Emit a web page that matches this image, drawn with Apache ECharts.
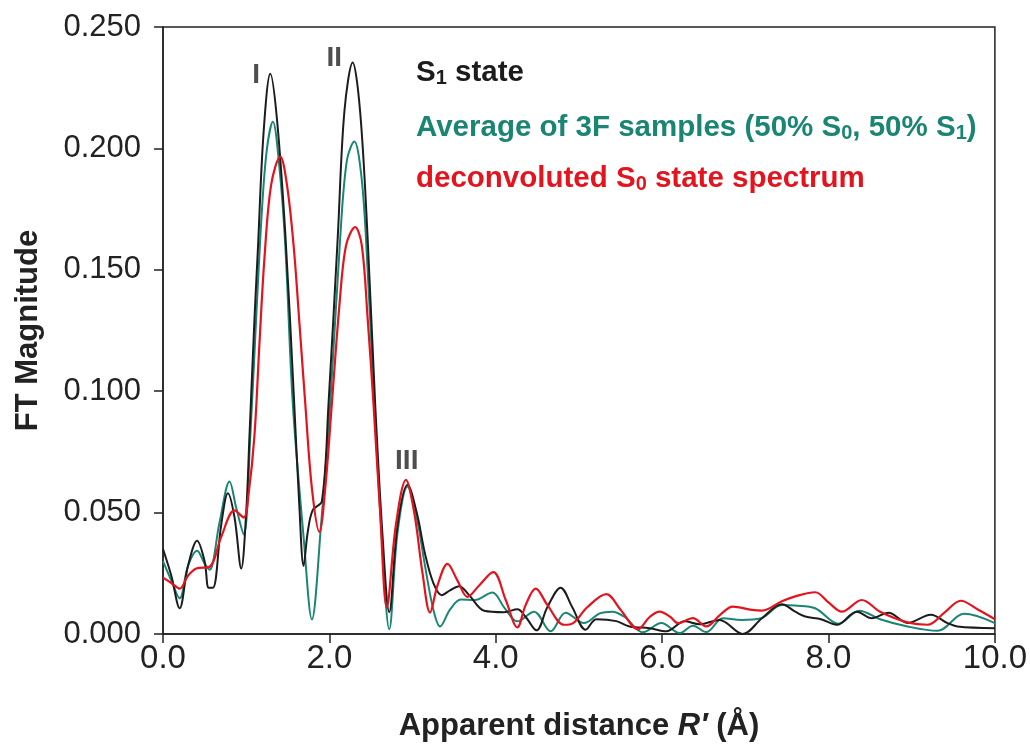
<!DOCTYPE html>
<html>
<head>
<meta charset="utf-8">
<script src="https://cdn.jsdelivr.net/npm/echarts@6/dist/echarts.min.js"></script>
<style>
html,body{margin:0;padding:0;background:#fff;overflow:hidden;}
#c{width:1030px;height:747px;}
</style>
</head>
<body>
<div id="c"></div>
<script>
// ---- data ----
// S1 state (black)
const s1R = [0.00,0.10,0.20,0.30,0.41,0.50,0.55,0.60,0.70,0.78,0.86,0.94,1.00,1.04,1.10,1.14,1.21,1.29,1.37,1.47,1.57,1.64,1.69,1.74,1.80,1.91,1.99,2.10,2.18,2.28,2.37,2.46,2.55,2.64,2.72,2.82,2.94,3.05,3.15,3.25,3.35,3.45,3.56,3.68,3.86,4.10,4.26,4.36,4.49,4.62,4.78,4.92,5.08,5.21,5.45,5.61,5.85,6.05,6.27,6.45,6.69,6.97,7.20,7.44,7.60,7.72,7.91,8.10,8.34,8.52,8.72,8.95,9.23,9.43,9.55,10.0];
const s1V = [0.035,0.024,0.0106,0.028,0.0384,0.030,0.019,0.019,0.045,0.058,0.048,0.027,0.050,0.082,0.130,0.158,0.207,0.2307,0.212,0.165,0.100,0.052,0.028,0.042,0.051,0.0547,0.095,0.163,0.215,0.2354,0.215,0.163,0.095,0.040,0.009,0.045,0.0615,0.050,0.033,0.021,0.016,0.018,0.0197,0.016,0.0096,0.009,0.0102,0.007,0.0015,0.011,0.0191,0.011,0.0018,0.0061,0.0053,0.0031,0.0024,0.0011,0.0052,0.004,0.0058,0.0,0.0065,0.0123,0.0092,0.0072,0.0061,0.0038,0.0092,0.0065,0.0088,0.0045,0.0079,0.0045,0.0031,0.0024];
// Average of 3F samples (teal)
const avgR = [0.00,0.10,0.20,0.30,0.41,0.50,0.56,0.68,0.80,0.88,0.97,1.05,1.12,1.19,1.25,1.32,1.40,1.47,1.56,1.69,1.79,1.90,2.01,2.13,2.21,2.30,2.38,2.44,2.54,2.63,2.72,2.82,2.94,3.05,3.15,3.25,3.33,3.45,3.58,3.75,3.96,4.10,4.26,4.46,4.66,4.84,5.06,5.25,5.40,5.55,5.77,5.99,6.21,6.37,6.53,6.73,6.95,7.19,7.44,7.60,7.84,8.12,8.37,8.62,8.95,9.31,9.63,10.0];
const avgV = [0.030,0.022,0.0147,0.028,0.0343,0.029,0.0265,0.046,0.0628,0.052,0.041,0.082,0.130,0.175,0.200,0.211,0.192,0.160,0.095,0.040,0.006,0.045,0.095,0.163,0.195,0.2028,0.190,0.163,0.095,0.040,0.002,0.042,0.0608,0.048,0.028,0.010,0.0031,0.010,0.0142,0.014,0.0171,0.011,0.0052,0.0092,0.0011,0.0088,0.0045,0.0085,0.0092,0.007,0.0007,0.0045,0.0004,0.0034,0.0008,0.0065,0.0058,0.0065,0.0119,0.0117,0.0106,0.0042,0.0096,0.0061,0.0031,0.0013,0.0083,0.0045];
// deconvoluted S0 state spectrum (red)
const s0R = [0.00,0.10,0.20,0.30,0.40,0.56,0.70,0.86,0.97,1.03,1.10,1.16,1.22,1.30,1.41,1.49,1.57,1.64,1.71,1.79,1.88,1.95,2.03,2.12,2.20,2.31,2.39,2.46,2.53,2.61,2.69,2.80,2.92,3.02,3.12,3.21,3.30,3.42,3.54,3.66,3.80,3.97,4.12,4.26,4.36,4.48,4.62,4.82,4.93,5.10,5.33,5.50,5.71,5.85,5.97,6.10,6.19,6.37,6.53,6.70,6.85,7.08,7.20,7.44,7.60,7.84,8.00,8.16,8.40,8.62,8.95,9.19,9.40,9.59,9.80,10.0];
const s0V = [0.0232,0.021,0.0187,0.024,0.027,0.0277,0.040,0.0509,0.048,0.058,0.082,0.120,0.155,0.185,0.1966,0.185,0.160,0.128,0.095,0.060,0.042,0.060,0.095,0.135,0.160,0.1676,0.160,0.130,0.095,0.050,0.011,0.045,0.0635,0.050,0.025,0.0088,0.020,0.0289,0.022,0.0153,0.020,0.0255,0.014,0.0027,0.012,0.0187,0.012,0.0038,0.0045,0.011,0.0164,0.010,0.002,0.007,0.0092,0.007,0.0045,0.0065,0.0031,0.008,0.0113,0.0099,0.0096,0.0135,0.0155,0.0172,0.013,0.0092,0.014,0.0092,0.0048,0.0038,0.009,0.0137,0.010,0.0061];
// peak annotations
const peakLabels = ['I','II','III'];
const peakR = [1.12, 2.06, 2.93];
const peakV = [0.2300, 0.2370, 0.0710];
// axis ticks
const xTicks = [0,2,4,6,8,10];
const yTicks = [0,0.05,0.1,0.15,0.2,0.25];

const BLACK = '#1c1c1c', TEAL = '#1b8574', RED = '#e3141e';
const pairs = (R, V) => R.map((r, i) => [r, V[i]]);

const chart = echarts.init(document.getElementById('c'), null, {renderer: 'canvas'});
const FONT = 'Liberation Sans, Arial, sans-serif';
const LBL = {fontFamily: FONT, fontSize: 31, color: '#222'};
const legendRich = (color) => ({
  b: {fontFamily: FONT, fontWeight: 'bold', fontSize: 29.5, fill: color, color: color, lineHeight: 34, verticalAlign: 'bottom'},
  s: {fontFamily: FONT, fontWeight: 'bold', fontSize: 20, fill: color, color: color, lineHeight: 18, verticalAlign: 'bottom'}
});

chart.setOption({
  animation: false,
  backgroundColor: '#fff',
  grid: {left: 163, right: 29, top: 27, bottom: 106, show: true, borderColor: '#222', borderWidth: 1.5, backgroundColor: 'transparent'},
  xAxis: {
    type: 'value', min: xTicks[0], max: xTicks[xTicks.length-1], interval: 2,
    axisLine: {show: true, lineStyle: {color: '#222', width: 1.5}},
    axisTick: {show: true, inside: false, length: 9, lineStyle: {color: '#222', width: 1.5}},
    axisLabel: Object.assign({margin: 8, formatter: v => v.toFixed(1)}, LBL, {fontSize: 33}),
    splitLine: {show: false},
    name: '{a|Apparent distance }{i|R′}{a| (Å)}',
    nameLocation: 'middle', nameGap: 77,
    nameTextStyle: {rich: {
      a: {fontFamily: FONT, fontWeight: 'bold', fontSize: 31, color: '#222'},
      i: {fontFamily: FONT, fontWeight: 'bold', fontStyle: 'italic', fontSize: 31, color: '#222'}
    }}
  },
  yAxis: {
    type: 'value', min: yTicks[0], max: yTicks[yTicks.length-1], interval: 0.05,
    axisLine: {show: true, lineStyle: {color: '#222', width: 1.5}},
    axisTick: {show: true, inside: false, length: 9, lineStyle: {color: '#222', width: 1.5}},
    axisLabel: Object.assign({margin: 22, formatter: v => v.toFixed(3)}, LBL),
    splitLine: {show: false},
    name: 'FT Magnitude', nameLocation: 'middle', nameGap: 119,
    nameTextStyle: {fontFamily: FONT, fontWeight: 'bold', fontSize: 31, color: '#222'}
  },
  graphic: [
    {type: 'text', left: 416, top: 58, style: {text: '{b|S}{s|1}{b| state}', rich: legendRich(BLACK)}},
    {type: 'text', left: 416, top: 113, style: {text: '{b|Average of 3F samples (50% S}{s|0}{b|, 50% S}{s|1}{b|)}', rich: legendRich(TEAL)}},
    {type: 'text', left: 416, top: 164, style: {text: '{b|deconvoluted S}{s|0}{b| state spectrum}', rich: legendRich(RED)}}
  ],
  series: [
    {name: 'Average of 3F samples', type: 'line', data: pairs(avgR, avgV), showSymbol: false, smooth: 0.35, lineStyle: {color: TEAL, width: 2}, itemStyle: {color: TEAL}, z: 2},
    {name: 'S1 state', type: 'line', data: pairs(s1R, s1V), showSymbol: false, smooth: 0.35, lineStyle: {color: BLACK, width: 2}, itemStyle: {color: BLACK}, z: 3},
    {name: 'deconvoluted S0', type: 'line', data: pairs(s0R, s0V), showSymbol: false, smooth: 0.35, lineStyle: {color: RED, width: 2.2}, itemStyle: {color: RED}, z: 4},
    {name: 'peaks', type: 'scatter', data: peakR.map((r, i) => ({value: [r, peakV[i]], name: peakLabels[i]})),
      symbolSize: 1, itemStyle: {color: 'rgba(0,0,0,0)'}, z: 5,
      label: {show: true, position: 'inside', formatter: p => p.name, fontFamily: FONT, fontWeight: 'bold', fontSize: 28, color: '#222'}}
  ]
});
</script>
</body>
</html>
